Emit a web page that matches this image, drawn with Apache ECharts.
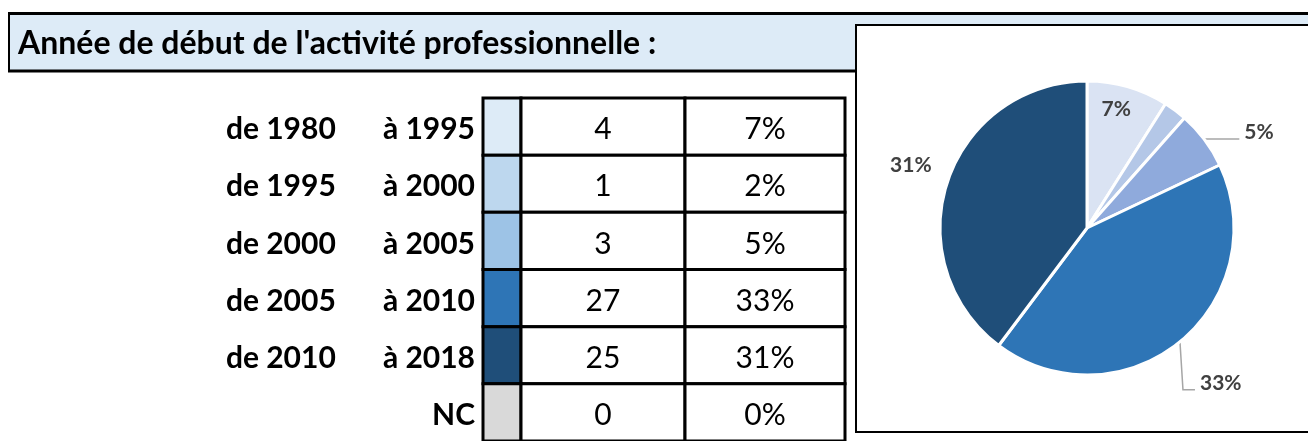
<!DOCTYPE html>
<html>
<head>
<meta charset="utf-8">
<script src="https://cdn.jsdelivr.net/npm/echarts@6/dist/echarts.min.js"></script>
<style>
  html, body { margin: 0; padding: 0; background: #fff; }
  #chart { width: 1308px; height: 441px; }
</style>
</head>
<body>
<div id="chart"></div>
<script>
// data read from the sheet
var periodFrom = ['de 1980', 'de 1995', 'de 2000', 'de 2005', 'de 2010', ''];
var periodTo = ['à 1995', 'à 2000', 'à 2005', 'à 2010', 'à 2018', 'NC'];
var counts = [4, 1, 3, 27, 25, 0];
var percents = [7, 2, 5, 33, 31, 0];

// styles
var swatchColors = ['#ddebf7', '#bdd7ee', '#9dc3e6', '#2e75b6', '#1f4e79', '#d9d9d9'];
var pieColors = ['#dae3f3', '#b4c7e7', '#8faadc', '#2e75b6', '#1f4e79', '#d9d9d9'];
var labelModes = ['inside', 'none', 'outside', 'drop', 'left', 'none'];
var colEdges = [0, 38, 202, 362];
var FONT = 'Lato, "Open Sans", sans-serif';

var tableData = counts.map(function (c, i) { return [0, i, c, percents[i]]; });

function renderRow(params, api) {
  var i = api.value(1);
  var cs = params.coordSys;
  var yc = api.coord([0, i])[1];
  var h = api.size([0, 1])[1];
  var top = yc - h / 2;
  var x0 = cs.x;
  var children = [];
  var fills = [swatchColors[i], '#fff', '#fff'];
  for (var k = 0; k < 3; k++) {
    children.push({
      type: 'rect',
      shape: { x: x0 + colEdges[k], y: top, width: colEdges[k + 1] - colEdges[k], height: h },
      style: { fill: fills[k], stroke: '#000', lineWidth: 3 }
    });
  }
  var texts = [String(api.value(2)), api.value(3) + '%'];
  for (var t = 0; t < 2; t++) {
    children.push({
      type: 'text',
      style: {
        x: x0 + (colEdges[t + 1] + colEdges[t + 2]) / 2, y: yc + 3,
        text: texts[t], align: 'center', verticalAlign: 'middle',
        font: '30px ' + FONT, fill: '#000'
      }
    });
  }
  return { type: 'group', children: children };
}

var pieData = percents.map(function (v, i) {
  var mode = labelModes[i];
  var item = { name: (periodFrom[i] + ' ' + periodTo[i]).trim(), value: v, itemStyle: { color: pieColors[i] } };
  if (mode === 'none') {
    item.label = { show: false };
    item.labelLine = { show: false };
  } else if (mode === 'inside') {
    item.label = { position: 'inside' };
  } else if (mode === 'outside') {
    item.labelLine = { length: 1, length2: 34 };
  } else if (mode === 'drop') {
    item.labelLine = { length: 10, length2: 14 };
  } else if (mode === 'left') {
    item.labelLine = { show: false, length: 1, length2: 1 };
  }
  return item;
}).filter(function (d) { return d.value > 0; });

var option = {
  animation: false,
  backgroundColor: '#fff',
  graphic: [
    { type: 'rect', z: 0, shape: { x: 9, y: 13, width: 1310, height: 58 }, style: { fill: '#ddebf7' } },
    { type: 'line', z: 1, shape: { x1: 8, y1: 13.5, x2: 1308, y2: 13.5 }, style: { stroke: '#000', lineWidth: 3 } },
    { type: 'line', z: 1, shape: { x1: 8, y1: 71, x2: 860, y2: 71 }, style: { stroke: '#000', lineWidth: 3 } },
    { type: 'line', z: 1, shape: { x1: 9, y1: 12, x2: 9, y2: 72 }, style: { stroke: '#000', lineWidth: 2 } },
    { type: 'text', z: 1, style: { x: 18, y: 44, text: "Année de début de l'activité professionnelle :", verticalAlign: 'middle', font: 'bold 32px ' + FONT, fill: '#000' } },
    { type: 'rect', z: 1, shape: { x: 856, y: 25, width: 470, height: 407 }, style: { fill: '#fff', stroke: '#000', lineWidth: 2 } }
  ],
  grid: { left: 483, top: 98, width: 362, height: 348 },
  xAxis: { type: 'value', min: 0, max: 1, show: false },
  yAxis: {
    type: 'category',
    inverse: true,
    data: periodTo,
    axisLine: { show: false },
    axisTick: { show: false },
    splitLine: { show: false },
    axisLabel: {
      margin: 8,
      padding: [6, 0, 0, 0],
      formatter: function (value, index) {
        return periodFrom[index] ? '{a|' + periodFrom[index] + '}{b|' + value + '}' : '{b|' + value + '}';
      },
      rich: {
        a: { width: 157, align: 'left', fontFamily: FONT, fontWeight: 'bold', fontSize: 30, color: '#000' },
        b: { fontFamily: FONT, fontWeight: 'bold', fontSize: 30, color: '#000' }
      }
    }
  },
  series: [
    {
      type: 'custom',
      renderItem: renderRow,
      encode: { x: 0, y: 1 },
      data: tableData,
      clip: false,
      z: 3
    },
    {
      type: 'pie',
      center: [1087, 228],
      radius: 147,
      startAngle: 90,
      avoidLabelOverlap: false,
      z: 3,
      itemStyle: { borderColor: '#fff', borderWidth: 3 },
      label: {
        formatter: '{c}%',
        color: '#404040',
        fontFamily: FONT,
        fontWeight: 'bold',
        fontSize: 21
      },
      labelLine: { lineStyle: { color: '#a6a6a6', width: 1.5 }, smooth: false },
      labelLayout: function (p) {
        var mode = labelModes[p.dataIndex];
        if (mode === 'inside') return { dx: 8, dy: -45 };
        if (mode === 'left') return { dx: -9, dy: -16 };
        if (mode === 'outside' && p.labelLinePoints) {
          return { dy: -7, labelLinePoints: p.labelLinePoints };
        }
        if (mode === 'drop' && p.labelLinePoints) {
          var s = p.labelLinePoints[0];
          var bend = [s[0] + 3, s[1] + 48];
          var end = [s[0] + 15, s[1] + 48];
          return {
            x: end[0] + 5, y: end[1] - 7, align: 'left', verticalAlign: 'middle',
            labelLinePoints: [s, bend, end]
          };
        }
        return {};
      },
      data: pieData
    }
  ]
};

var chart = echarts.init(document.getElementById('chart'));
chart.setOption(option);
</script>
</body>
</html>
